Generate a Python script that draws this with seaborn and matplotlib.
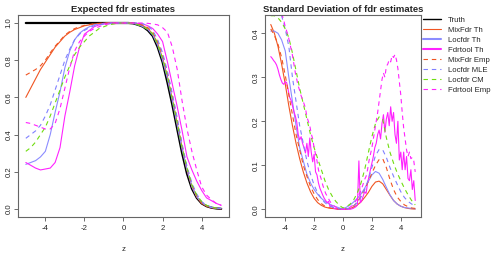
import matplotlib
matplotlib.use("Agg")
import matplotlib.pyplot as plt
import seaborn as sns
import numpy as np

# grid of z values used for the smooth curves
z = [-5.0, -4.75, -4.5, -4.25, -4.0, -3.75, -3.5, -3.25, -3.0, -2.75,
     -2.5, -2.25, -2.0, -1.75, -1.5, -1.25, -1.0, -0.75, -0.5, -0.25,
     0.0, 0.25, 0.5, 0.75, 1.0, 1.25, 1.5, 1.75, 2.0, 2.25,
     2.5, 2.75, 3.0, 3.25, 3.5, 3.75, 4.0, 4.25, 4.5, 4.75, 5.0]

# finer grid for the noisy fdrtool SD curves
z_fine = [-5.0, -4.9, -4.8, -4.7, -4.6, -4.5, -4.4, -4.3, -4.2, -4.1,
          -4.0, -3.9, -3.8, -3.7, -3.6, -3.5, -3.4, -3.3, -3.2, -3.1,
          -3.0, -2.9, -2.8, -2.7, -2.6, -2.5, -2.4, -2.3, -2.2, -2.1,
          -2.0, -1.9, -1.8, -1.7, -1.6, -1.5, -1.4, -1.3, -1.2, -1.1,
          -1.0, -0.9, -0.8, -0.7, -0.6, -0.5, -0.4, -0.3, -0.2, -0.1,
          0.0, 0.1, 0.2, 0.3, 0.4, 0.5, 0.6, 0.7, 0.8, 0.9,
          1.0, 1.1, 1.2, 1.3, 1.4, 1.5, 1.6, 1.7, 1.8, 1.9,
          2.0, 2.1, 2.2, 2.3, 2.4, 2.5, 2.6, 2.7, 2.8, 2.9,
          3.0, 3.1, 3.2, 3.3, 3.4, 3.5, 3.6, 3.7, 3.8, 3.9,
          4.0, 4.1, 4.2, 4.3, 4.4, 4.5, 4.6, 4.7, 4.8, 4.9, 5.0]

# expected fdr estimates
fdr_truth = [1.0, 1.0, 1.0, 1.0, 1.0, 1.0, 1.0, 1.0, 1.0, 1.0,
             1.0, 1.0, 1.0, 1.0, 1.0, 1.0, 1.0, 1.0, 1.0, 1.0,
             1.0, 1.0, 0.998, 0.99, 0.98, 0.96, 0.93, 0.87, 0.79, 0.68,
             0.56, 0.43, 0.30, 0.19, 0.11, 0.06, 0.03, 0.015, 0.007, 0.003, 0.001]
fdr_mix_th = [0.60, 0.65, 0.70, 0.75, 0.79, 0.83, 0.87, 0.90, 0.93, 0.95,
              0.965, 0.975, 0.985, 0.99, 0.995, 0.997, 0.999, 1.0, 1.0, 1.0,
              1.0, 1.0, 1.0, 0.995, 0.985, 0.97, 0.94, 0.89, 0.81, 0.71,
              0.59, 0.46, 0.33, 0.21, 0.12, 0.065, 0.03, 0.015, 0.007, 0.003, 0.001]
fdr_loc_th = [0.24, 0.25, 0.26, 0.28, 0.31, 0.40, 0.52, 0.63, 0.76, 0.85,
              0.91, 0.945, 0.965, 0.98, 0.99, 0.995, 0.998, 1.0, 1.0, 1.0,
              1.0, 1.0, 0.998, 0.99, 0.98, 0.965, 0.935, 0.88, 0.80, 0.70,
              0.58, 0.45, 0.32, 0.21, 0.12, 0.065, 0.035, 0.018, 0.008, 0.004, 0.002]
fdr_tool_th = [0.25, 0.235, 0.22, 0.21, 0.215, 0.22, 0.25, 0.33, 0.50, 0.63,
               0.77, 0.87, 0.94, 0.96, 0.98, 0.99, 0.995, 1.0, 1.0, 1.0,
               1.0, 1.0, 1.0, 0.998, 0.995, 0.985, 0.97, 0.94, 0.90, 0.79,
               0.67, 0.55, 0.42, 0.28, 0.21, 0.15, 0.10, 0.06, 0.045, 0.03, 0.02]
fdr_mix_emp = [0.72, 0.735, 0.75, 0.77, 0.80, 0.84, 0.875, 0.905, 0.935, 0.955,
               0.97, 0.98, 0.987, 0.992, 0.996, 0.998, 1.0, 1.0, 1.0, 1.0,
               1.0, 1.0, 1.0, 0.995, 0.99, 0.975, 0.95, 0.90, 0.83, 0.73,
               0.61, 0.48, 0.34, 0.22, 0.13, 0.07, 0.035, 0.017, 0.008, 0.004, 0.002]
fdr_loc_mle = [0.38, 0.40, 0.42, 0.45, 0.50, 0.56, 0.64, 0.72, 0.80, 0.86,
               0.91, 0.94, 0.96, 0.975, 0.985, 0.99, 0.995, 0.998, 1.0, 1.0,
               1.0, 1.0, 1.0, 1.0, 0.995, 0.985, 0.96, 0.91, 0.84, 0.74,
               0.62, 0.49, 0.35, 0.23, 0.14, 0.08, 0.04, 0.02, 0.01, 0.005, 0.002]
fdr_loc_cm = [0.31, 0.33, 0.36, 0.40, 0.44, 0.50, 0.57, 0.64, 0.71, 0.77,
              0.83, 0.87, 0.90, 0.93, 0.95, 0.97, 0.98, 0.99, 0.995, 1.0,
              1.0, 1.0, 0.998, 0.99, 0.98, 0.965, 0.94, 0.885, 0.81, 0.71,
              0.59, 0.46, 0.33, 0.22, 0.13, 0.075, 0.04, 0.02, 0.01, 0.005, 0.002]
fdr_tool_emp = [0.465, 0.46, 0.45, 0.44, 0.43, 0.43, 0.46, 0.54, 0.65, 0.76,
                0.85, 0.90, 0.93, 0.955, 0.97, 0.98, 0.99, 0.995, 1.0, 1.0,
                1.0, 1.0, 1.0, 1.0, 1.0, 0.998, 0.995, 0.99, 0.975, 0.95,
                0.87, 0.75, 0.58, 0.43, 0.31, 0.21, 0.12, 0.075, 0.05, 0.03, 0.02]

# standard deviation of fdr estimates
sd_mix_th = [0.42, 0.40, 0.37, 0.33, 0.285, 0.235, 0.19, 0.15, 0.115, 0.085,
             0.06, 0.04, 0.025, 0.015, 0.009, 0.005, 0.003, 0.002, 0.001, 0.0005,
             0.0003, 0.001, 0.002, 0.005, 0.01, 0.017, 0.027, 0.038, 0.052, 0.062,
             0.064, 0.058, 0.045, 0.032, 0.02, 0.012, 0.007, 0.004, 0.002, 0.001, 0.0005]
sd_loc_th = [0.405, 0.405, 0.40, 0.385, 0.36, 0.30, 0.245, 0.19, 0.14, 0.11,
             0.08, 0.06, 0.045, 0.034, 0.025, 0.018, 0.013, 0.009, 0.006, 0.003,
             0.001, 0.005, 0.01, 0.017, 0.025, 0.035, 0.048, 0.063, 0.078, 0.086,
             0.082, 0.068, 0.05, 0.033, 0.02, 0.012, 0.007, 0.004, 0.003, 0.002, 0.001]
sd_mix_emp = [0.41, 0.395, 0.375, 0.345, 0.305, 0.26, 0.215, 0.17, 0.135, 0.10,
              0.075, 0.052, 0.035, 0.022, 0.013, 0.007, 0.004, 0.002, 0.001, 0.0005,
              0.0, 0.001, 0.003, 0.008, 0.017, 0.03, 0.045, 0.063, 0.082, 0.10,
              0.113, 0.115, 0.095, 0.068, 0.045, 0.028, 0.018, 0.01, 0.006, 0.003, 0.002]
sd_loc_mle = [0.47, 0.46, 0.45, 0.44, 0.41, 0.37, 0.30, 0.245, 0.19, 0.15,
              0.11, 0.08, 0.055, 0.037, 0.024, 0.015, 0.009, 0.005, 0.003, 0.001,
              0.0005, 0.001, 0.003, 0.008, 0.016, 0.028, 0.045, 0.067, 0.095, 0.122,
              0.136, 0.135, 0.118, 0.095, 0.075, 0.057, 0.04, 0.027, 0.018, 0.012, 0.008]
sd_loc_cm = [0.44, 0.44, 0.435, 0.425, 0.41, 0.39, 0.355, 0.315, 0.275, 0.24,
             0.205, 0.17, 0.14, 0.115, 0.09, 0.065, 0.045, 0.03, 0.018, 0.009,
             0.003, 0.006, 0.012, 0.022, 0.038, 0.06, 0.09, 0.128, 0.165, 0.195,
             0.21, 0.205, 0.163, 0.13, 0.105, 0.083, 0.065, 0.048, 0.033, 0.02, 0.01]
sd_tool_th = [0.347, 0.343, 0.338, 0.334, 0.328, 0.318, 0.305, 0.295, 0.287, 0.284,
              0.290, 0.288, 0.272, 0.255, 0.248, 0.236, 0.222, 0.212, 0.198, 0.170,
              0.158, 0.165, 0.150, 0.140, 0.128, 0.150, 0.120, 0.162, 0.130, 0.108,
              0.125, 0.085, 0.078, 0.060, 0.048, 0.040, 0.032, 0.025, 0.020, 0.015,
              0.018, 0.006, 0.009, 0.004, 0.002, 0.001, 0.0, 0.0, 0.0, 0.0,
              0.0, 0.0, 0.0, 0.0, 0.0, 0.0, 0.001, 0.002, 0.004, 0.006,
              0.010, 0.110, 0.015, 0.020, 0.030, 0.040, 0.036, 0.060, 0.075, 0.090,
              0.105, 0.120, 0.140, 0.150, 0.170, 0.180, 0.160, 0.195, 0.215, 0.175,
              0.205, 0.220, 0.190, 0.233, 0.200, 0.220, 0.170, 0.150, 0.200, 0.112,
              0.130, 0.090, 0.130, 0.090, 0.120, 0.070, 0.065, 0.090, 0.045, 0.065, 0.020]
sd_tool_emp = [0.50, 0.49, 0.48, 0.47, 0.465, 0.46, 0.455, 0.445, 0.44, 0.43,
               0.415, 0.405, 0.395, 0.38, 0.365, 0.35, 0.33, 0.31, 0.295, 0.28,
               0.27, 0.258, 0.25, 0.24, 0.23, 0.21, 0.20, 0.19, 0.172, 0.16,
               0.14, 0.125, 0.11, 0.09, 0.078, 0.068, 0.055, 0.045, 0.036, 0.03,
               0.024, 0.018, 0.013, 0.01, 0.007, 0.005, 0.003, 0.002, 0.001, 0.0,
               0.0, 0.0, 0.001, 0.002, 0.003, 0.005, 0.007, 0.01, 0.015, 0.02,
               0.025, 0.032, 0.04, 0.048, 0.058, 0.068, 0.075, 0.09, 0.11, 0.125,
               0.14, 0.16, 0.18, 0.20, 0.22, 0.245, 0.27, 0.295, 0.31, 0.30,
               0.325, 0.33, 0.34, 0.335, 0.35, 0.345, 0.352, 0.34, 0.32, 0.29,
               0.26, 0.22, 0.185, 0.16, 0.135, 0.12, 0.13, 0.115, 0.118, 0.11, 0.085]

labels = ["Truth", "MixFdr Th", "Locfdr Th", "Fdrtool Th",
          "MixFdr Emp", "Locfdr MLE", "Locfdr CM", "Fdrtool Emp"]
colors = ["black", "#F05522", "#8C8CFF", "#FF22FF",
          "#F05522", "#8080FF", "#70DD10", "#FF22FF"]
styles = ["-", "-", "-", "-", "--", "--", "--", "--"]

sns.set_style("white")
plt.rcParams['font.family'] = ['Liberation Sans', 'DejaVu Sans']

fig = plt.figure(figsize=(4.91, 2.56), dpi=100)
ax1 = fig.add_axes([18 / 491, 39 / 256, 211 / 491, 202 / 256])
ax2 = fig.add_axes([265 / 491, 39 / 256, 156 / 491, 202 / 256])

left_series = [fdr_truth, fdr_mix_th, fdr_loc_th, fdr_tool_th,
               fdr_mix_emp, fdr_loc_mle, fdr_loc_cm, fdr_tool_emp]
for vals, lab, col, ls in zip(left_series, labels, colors, styles):
    lw = 1.6 if lab == "Truth" else 0.8
    sns.lineplot(x=z, y=vals, ax=ax1, color=col, linestyle=ls, linewidth=lw,
                 label=lab, legend=False, dashes=False)
    if ls == "--":
        ax1.lines[-1].set_dashes((4, 3.5))

right_series = [(z, sd_mix_th), (z, sd_loc_th), (z_fine, sd_tool_th),
                (z, sd_mix_emp), (z, sd_loc_mle), (z, sd_loc_cm), (z_fine, sd_tool_emp)]
for (xs, vals), col, ls in zip(right_series, colors[1:], styles[1:]):
    sns.lineplot(x=xs, y=vals, ax=ax2, color=col, linestyle=ls, linewidth=0.8,
                 legend=False)
    if ls == "--":
        ax2.lines[-1].set_dashes((4, 3.5))

ax1.set_xlim(-5.4, 5.4)
ax1.set_ylim(-0.043, 1.043)
ax1.set_yticks([0.0, 0.2, 0.4, 0.6, 0.8, 1.0])
ax1.set_yticklabels(["0.0", "0.2", "0.4", "0.6", "0.8", "1.0"])
ax2.set_xlim(-5.4, 5.4)
ax2.set_ylim(-0.0175, 0.4416)
ax2.set_yticks([0.0, 0.1, 0.2, 0.3, 0.4])
ax2.set_yticklabels(["0.0", "0.1", "0.2", "0.3", "0.4"])

for ax, title in [(ax1, "Expected fdr estimates"),
                  (ax2, "Standard Deviation of fdr estimates")]:
    ax.set_xticks([-4, -2, 0, 2, 4])
    ax.set_xticklabels(["-4", "-2", "0", "2", "4"])
    ax.set_title(title, fontsize=6.8, fontweight="bold", pad=2.5)
    ax.set_xlabel("z", fontsize=5.6, labelpad=10)
    ax.tick_params(bottom=True, left=True, direction="out", length=3,
                   width=0.6, color="#555555", labelsize=5.6)
    ax.tick_params(axis="x", pad=3)
    ax.tick_params(axis="y", pad=1)
    for lab in ax.get_yticklabels():
        lab.set_rotation(90)
        lab.set_va("center")
    for sp in ax.spines.values():
        sp.set_color("#666666")
        sp.set_linewidth(0.8)

handles = list(ax1.lines)
leg = fig.legend(handles, labels, loc="upper left",
                 bbox_to_anchor=(421 / 491, 1 - 15 / 256), frameon=False,
                 fontsize=5.6, handlelength=2.4, handletextpad=0.9,
                 labelspacing=0.32, borderaxespad=0, borderpad=0.2)
for h, lab in zip(leg.legend_handles, labels):
    if lab in ("Locfdr Th", "Fdrtool Th"):
        h.set_linewidth(1.5)
    elif lab == "Truth":
        h.set_linewidth(1.0)

fig.savefig("out.png", dpi=100)
